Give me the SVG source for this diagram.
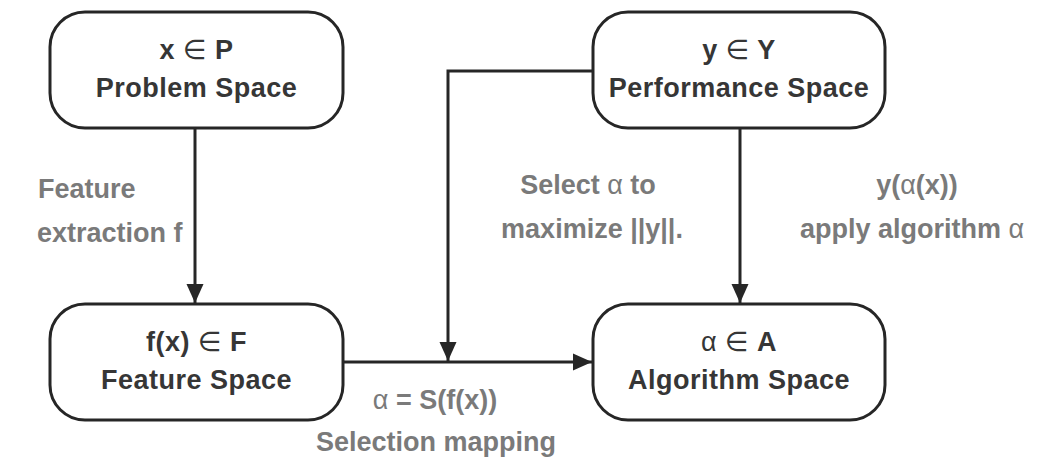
<svg xmlns="http://www.w3.org/2000/svg" width="1038" height="462" viewBox="0 0 1038 462">
  <style>
    .box { fill: #ffffff; stroke: #262626; stroke-width: 3; }
    .conn { fill: none; stroke: #262626; stroke-width: 3; }
    .node-text { font-family: "Liberation Sans", "DejaVu Sans", sans-serif; font-weight: bold; font-size: 27px; fill: #363636; text-anchor: middle; letter-spacing: 0.5px; }
    .label { font-family: "Liberation Sans", "DejaVu Sans", sans-serif; font-weight: bold; font-size: 27px; fill: #7a7a7a; letter-spacing: 0px; }
    .mid { text-anchor: middle; }
    .start { text-anchor: start; }
    .sym { font-weight: normal; }
  </style>
  <defs>
    <marker id="arrow" markerUnits="userSpaceOnUse" markerWidth="20" markerHeight="20" viewBox="0 0 20 20" refX="19" refY="10" orient="auto">
      <path d="M0,1.5 L19,10 L0,18.5 Z" fill="#262626"/>
    </marker>
  </defs>

  <g id="connectors">
    <line class="conn" x1="195" y1="128" x2="195" y2="303" marker-end="url(#arrow)"/>
    <line class="conn" x1="740" y1="128" x2="740" y2="303" marker-end="url(#arrow)"/>
    <line class="conn" x1="343" y1="362" x2="592" y2="362" marker-end="url(#arrow)"/>
    <polyline class="conn" points="593,71 448,71 448,361" marker-end="url(#arrow)"/>
  </g>

  <g id="node-problem">
    <rect class="box" x="50" y="12" width="293" height="116" rx="35" ry="35"/>
    <text class="node-text" x="196.5" y="59">x <tspan class="sym">∈</tspan> P</text>
    <text class="node-text" x="196.5" y="97">Problem Space</text>
  </g>

  <g id="node-performance">
    <rect class="box" x="593" y="12" width="292" height="116" rx="35" ry="35"/>
    <text class="node-text" x="739" y="59">y <tspan class="sym">∈</tspan> Y</text>
    <text class="node-text" x="739" y="97">Performance Space</text>
  </g>

  <g id="node-feature">
    <rect class="box" x="50" y="304" width="293" height="116" rx="35" ry="35"/>
    <text class="node-text" x="196.5" y="351">f(x) <tspan class="sym">∈</tspan> F</text>
    <text class="node-text" x="196.5" y="389">Feature Space</text>
  </g>

  <g id="node-algorithm">
    <rect class="box" x="593" y="304" width="292" height="116" rx="35" ry="35"/>
    <text class="node-text" x="739" y="351"><tspan class="sym">α ∈</tspan> A</text>
    <text class="node-text" x="739" y="389">Algorithm Space</text>
  </g>

  <g id="labels">
    <text class="label start" x="38" y="198">Feature</text>
    <text class="label start" x="37" y="242">extraction f</text>
    <text class="label mid" x="588" y="194">Select <tspan class="sym">α</tspan> to</text>
    <text class="label mid" x="592" y="238">maximize ||y||.</text>
    <text class="label mid" x="917" y="194">y(<tspan class="sym">α</tspan>(x))</text>
    <text class="label mid" x="912" y="238">apply algorithm <tspan class="sym">α</tspan></text>
    <text class="label mid" x="435" y="409"><tspan class="sym">α</tspan> = S(f(x))</text>
    <text class="label mid" x="436" y="451">Selection mapping</text>
  </g>
</svg>
